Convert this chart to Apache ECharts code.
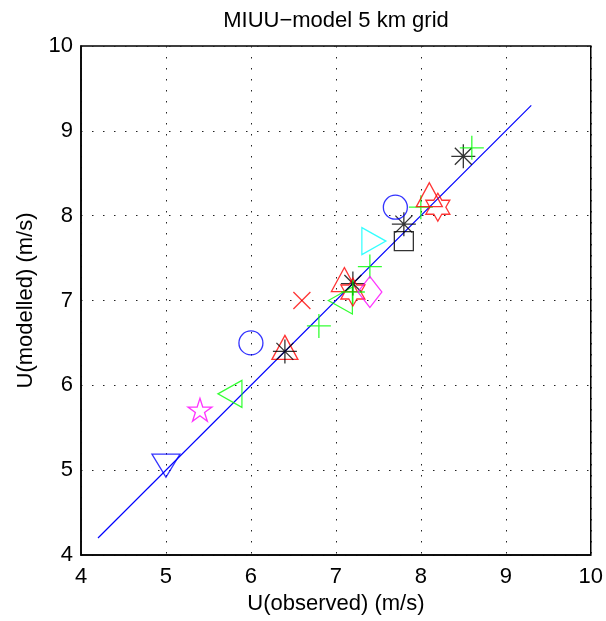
<!DOCTYPE html>
<html>
<head>
<meta charset="utf-8">
<title>MIUU-model 5 km grid</title>
<script src="https://cdn.jsdelivr.net/npm/echarts@6/dist/echarts.min.js"></script>
<style>
  html, body { margin: 0; padding: 0; background: #fff; }
  #chart { width: 606px; height: 621px; }
</style>
</head>
<body>
<div id="chart"></div>
<script>
// Observed vs. modelled wind speed, one marker per station
const obsU = [5.0, 5.4, 5.8, 6.0, 6.4, 6.4, 6.6, 6.8, 7.1, 7.1, 7.2, 7.2, 7.2, 7.4, 7.4, 7.4, 7.8, 7.8, 7.7, 8.0, 8.1, 8.2, 8.5, 8.6];
const modU = [5.1, 5.7, 5.9, 6.5, 6.4, 6.4, 7.0, 6.7, 7.0, 7.2, 7.2, 7.1, 7.1, 7.4, 7.1, 7.7, 7.7, 7.9, 8.1, 8.1, 8.2, 8.1, 8.7, 8.8];
const markerKinds = ['v', 'p', '<', 'o', '^', '*', 'x', '+', '<', '^', '*', 'h', '+', '+', 'd', '>', 's', '*', 'o', '+', '^', 'h', '*', '+'];
const markerColors = ['b', 'm', 'g', 'b', 'r', 'k', 'r', 'g', 'g', 'r', 'k', 'r', 'g', 'g', 'm', 'c', 'k', 'k', 'b', 'g', 'r', 'r', 'k', 'g'];

// 1:1 reference line
const lineX = [4.2, 9.3];
const lineY = [4.2, 9.3];

// Axis ticks
const axisMin = 4;
const axisMax = 10;
const axisStep = 1;

const colorMap = { b: '#0000ff', g: '#00ff00', r: '#ff0000', c: '#00ffff', m: '#ff00ff', k: '#000000' };

function polyPath(n, rIn, startDeg) {
  const pts = [];
  for (let i = 0; i < 2 * n; i++) {
    const a = (startDeg + i * 180 / n) * Math.PI / 180;
    const r = i % 2 === 0 ? 1 : rIn;
    pts.push((r * Math.cos(a)).toFixed(4) + ',' + (r * Math.sin(a)).toFixed(4));
  }
  return 'path://M' + pts.join('L') + 'Z';
}

const s2 = 0.7071;
const markerShapes = {
  'o': { symbol: 'circle', size: [24, 24], offset: [0, 0] },
  's': { symbol: 'rect', size: [19, 19], offset: [0, 0] },
  'd': { symbol: 'diamond', size: [24, 31], offset: [0, 0] },
  '^': { symbol: 'path://M0,-1L1,1L-1,1Z', size: [26, 24], offset: [0, -4] },
  'v': { symbol: 'path://M-1,-1L1,-1L0,1Z', size: [28, 23], offset: [0, 4] },
  '<': { symbol: 'path://M-1,0L1,-1L1,1Z', size: [24, 27], offset: [-4, 0] },
  '>': { symbol: 'path://M-1,-1L1,0L-1,1Z', size: [24, 27], offset: [4, 0] },
  '+': { symbol: 'path://M0,-1L0,1M-1,0L1,0', size: [24, 24], offset: [0, 0] },
  'x': { symbol: 'path://M-1,-1L1,1M-1,1L1,-1', size: [17, 17], offset: [0, 0] },
  '*': { symbol: 'path://M0,-1L0,1M-1,0L1,0M-' + s2 + ',-' + s2 + 'L' + s2 + ',' + s2 + 'M-' + s2 + ',' + s2 + 'L' + s2 + ',-' + s2, size: [24, 24], offset: [0, 0] },
  'p': { symbol: polyPath(5, 0.382, -90), size: [24, 23], offset: [0, -1] },
  'h': { symbol: polyPath(6, 0.5774, -90), size: [24, 28], offset: [0, 0] }
};

const points = obsU.map((x, i) => {
  const shape = markerShapes[markerKinds[i]];
  return {
    value: [x, modU[i]],
    symbol: shape.symbol,
    symbolSize: shape.size,
    symbolOffset: shape.offset,
    itemStyle: {
      color: 'none',
      borderColor: colorMap[markerColors[i]],
      borderWidth: 1.3
    }
  };
});

const font = 'Liberation Sans, Arial, Helvetica, sans-serif';

const axisCommon = {
  type: 'value',
  min: axisMin,
  max: axisMax,
  interval: axisStep,
  nameLocation: 'middle',
  nameTextStyle: { fontFamily: font, fontSize: 22, color: '#000' },
  axisLine: { show: true, lineStyle: { color: '#000', width: 1.5 } },
  axisTick: { show: false },
  axisLabel: { fontFamily: font, fontSize: 22, color: '#000' },
  splitLine: { show: true, lineStyle: { color: '#222', width: 1, type: [1.5, 9.5] } }
};

const chart = echarts.init(document.getElementById('chart'), null, { renderer: 'canvas' });
chart.setOption({
  animation: false,
  backgroundColor: '#fff',
  grid: {
    left: 81, right: 14, top: 46, bottom: 66,
    show: true, borderColor: '#000', borderWidth: 1.5, backgroundColor: 'transparent'
  },
  graphic: [{
    type: 'text',
    x: 336, y: 21,
    style: {
      text: 'MIUU\u2212model 5 km grid',
      font: '22px ' + font,
      fill: '#000',
      textAlign: 'center',
      textVerticalAlign: 'middle'
    }
  }],
  xAxis: Object.assign({}, axisCommon, {
    name: 'U(observed) (m/s)',
    nameGap: 38,
    axisLabel: Object.assign({}, axisCommon.axisLabel, { margin: 11 })
  }),
  yAxis: Object.assign({}, axisCommon, {
    name: 'U(modelled) (m/s)',
    nameGap: 44,
    axisLabel: Object.assign({}, axisCommon.axisLabel, { margin: 8 })
  }),
  series: [
    {
      type: 'line',
      data: lineX.map((x, i) => [x, lineY[i]]),
      showSymbol: false,
      symbol: 'none',
      lineStyle: { color: '#0000ff', width: 1.2 },
      z: 2
    },
    {
      type: 'scatter',
      data: points,
      z: 3
    }
  ]
});
</script>
</body>
</html>
